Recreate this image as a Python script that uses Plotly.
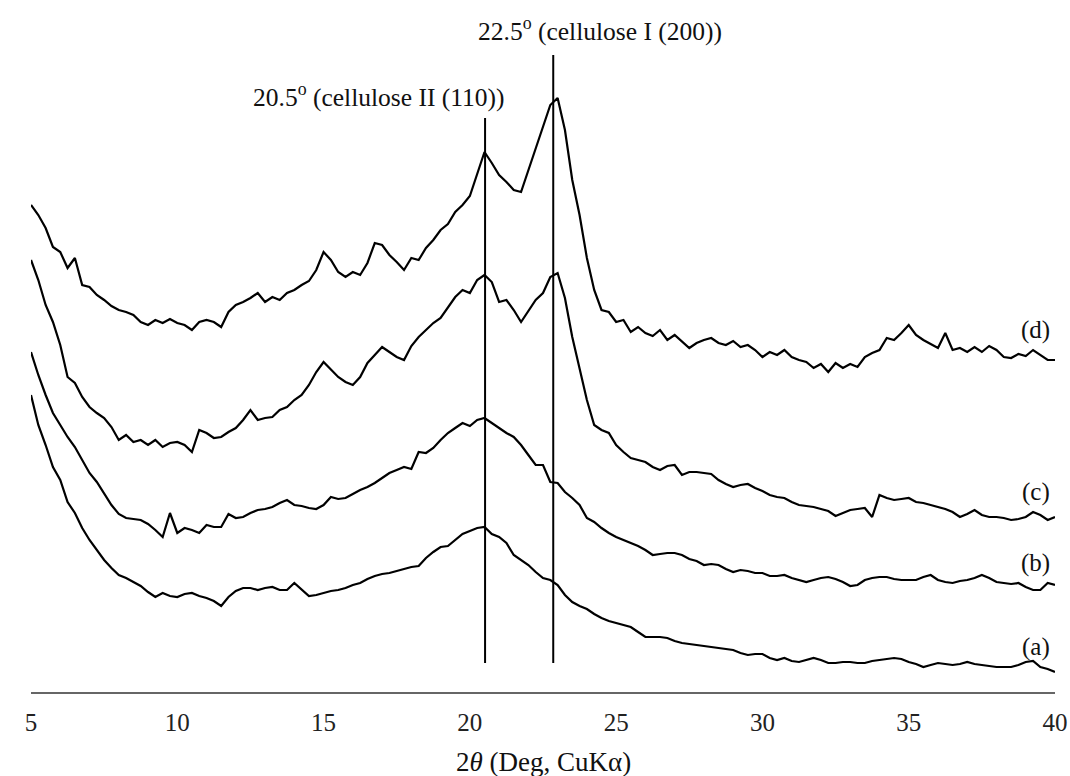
import numpy as np
import plotly.graph_objects as go

# 2-theta grid, 0.25 deg steps
two_theta = np.arange(5, 40.001, 0.25)

# intensities (a.u., offset stack)
xrd_a = [305, 275, 255, 233, 220, 198, 187, 172, 160, 150, 140, 132, 125, 122, 118, 114,
         108, 103, 107, 104, 103, 106, 107, 104, 102, 99, 94, 103, 109, 112, 112, 110,
         112, 113, 110, 110, 117, 110, 104, 105, 107, 109, 110, 112, 115, 117, 121, 124,
         126, 127, 129, 131, 133, 134, 142, 148, 153, 154, 160, 166, 169, 172, 173, 166,
         163, 157, 145, 140, 135, 128, 122, 120, 115, 105, 98, 94, 91, 86, 82, 79,
         77, 75, 73, 68, 63, 63, 63, 62, 59, 57, 56, 55, 54, 53, 52, 51,
         50, 47, 45, 46, 46, 42, 40, 42, 39, 38, 40, 42, 40, 37, 37, 38,
         38, 37, 37, 39, 40, 41, 42, 41, 38, 36, 33, 35, 37, 36, 35, 36,
         38, 36, 35, 34, 33, 33, 33, 35, 38, 39, 33, 31, 28]
xrd_b = [348, 325, 305, 287, 275, 263, 253, 240, 227, 218, 206, 195, 186, 182, 181, 180,
         176, 170, 163, 187, 167, 172, 170, 167, 175, 173, 173, 186, 182, 183, 187, 190,
         191, 193, 197, 200, 195, 194, 192, 191, 195, 203, 201, 202, 206, 210, 213, 217,
         222, 227, 230, 233, 231, 248, 247, 252, 260, 267, 272, 277, 274, 280, 282, 277,
         272, 267, 263, 255, 245, 235, 235, 218, 217, 208, 202, 195, 182, 178, 172, 167,
         163, 160, 157, 154, 150, 145, 146, 147, 147, 145, 141, 139, 135, 136, 135, 131,
         128, 130, 129, 127, 127, 124, 124, 125, 122, 120, 118, 120, 122, 123, 121, 118,
         114, 115, 120, 122, 123, 123, 121, 120, 120, 120, 123, 125, 120, 118, 117, 119,
         120, 122, 125, 122, 118, 117, 116, 117, 113, 110, 110, 117, 115]
xrd_c = [440, 420, 395, 378, 355, 323, 317, 303, 293, 287, 282, 273, 260, 265, 258, 260,
         255, 260, 253, 257, 258, 255, 248, 270, 267, 262, 263, 268, 272, 280, 290, 280,
         282, 283, 290, 293, 300, 305, 315, 328, 338, 330, 323, 318, 315, 323, 337, 345,
         353, 348, 343, 340, 354, 363, 370, 377, 382, 392, 403, 410, 407, 420, 425, 418,
         398, 400, 390, 378, 389, 400, 407, 423, 427, 402, 363, 330, 300, 275, 270, 267,
         255, 248, 242, 240, 238, 233, 230, 234, 235, 225, 228, 228, 227, 226, 220, 216,
         213, 215, 216, 212, 209, 205, 203, 202, 198, 195, 194, 193, 191, 189, 184, 187,
         190, 191, 192, 183, 205, 202, 200, 201, 202, 198, 197, 195, 193, 191, 188, 183,
         186, 190, 185, 183, 183, 182, 180, 181, 183, 188, 185, 180, 183]
xrd_d = [495, 485, 472, 453, 448, 432, 442, 415, 413, 405, 400, 394, 390, 388, 385, 378,
         375, 380, 377, 381, 377, 375, 370, 378, 380, 378, 373, 388, 395, 398, 402, 407,
         398, 403, 400, 407, 410, 415, 419, 430, 448, 440, 428, 423, 428, 425, 437, 457,
         455, 445, 438, 430, 442, 440, 452, 460, 470, 476, 488, 495, 504, 527, 548, 537,
         525, 518, 510, 508, 530, 550, 572, 595, 602, 570, 520, 485, 442, 410, 390, 388,
         378, 380, 368, 373, 367, 364, 370, 360, 365, 358, 352, 357, 360, 362, 357, 355,
         359, 353, 355, 350, 343, 348, 345, 350, 343, 340, 338, 332, 336, 328, 337, 332,
         336, 333, 343, 347, 350, 362, 360, 367, 375, 365, 360, 356, 352, 367, 350, 352,
         348, 353, 348, 354, 350, 343, 342, 346, 344, 350, 345, 340, 340]

series = [("(a)", xrd_a, 53), ("(b)", xrd_b, 137), ("(c)", xrd_c, 208), ("(d)", xrd_d, 370)]

# reference peak positions (as drawn) and line tops
peak_pos = [20.52, 22.85]
peak_top = [582, 645]
peak_text = ["20.5<sup>o</sup> (cellulose II (110))", "22.5<sup>o</sup> (cellulose I (200))"]

serif = "Liberation Serif, Times New Roman, serif"

fig = go.Figure()
for name, vals, lab_y in series:
    fig.add_trace(go.Scatter(x=two_theta, y=vals, mode="lines", name=name,
                             line=dict(color="black", width=2.2), showlegend=False))
    fig.add_annotation(x=39.35, y=lab_y, text=name, showarrow=False,
                       xanchor="center", yanchor="middle",
                       font=dict(family=serif, size=25, color="#111"))

for xp, top in zip(peak_pos, peak_top):
    fig.add_shape(type="line", x0=xp, x1=xp, y0=37, y1=top,
                  line=dict(color="black", width=2))

fig.add_annotation(x=21.27, y=605, xanchor="right", yanchor="middle",
                   text=peak_text[0], showarrow=False,
                   font=dict(family=serif, size=25.5, color="#111"))
fig.add_annotation(x=24.45, y=671, xanchor="center", yanchor="middle",
                   text=peak_text[1], showarrow=False,
                   font=dict(family=serif, size=25.5, color="#111"))

fig.add_annotation(xref="paper", yref="paper", x=0.5, y=-0.1012,
                   xanchor="center", yanchor="middle",
                   text="2<i>θ</i> (Deg, CuKα)", showarrow=False,
                   font=dict(family=serif, size=27, color="#111"))

fig.update_layout(
    width=1070, height=776,
    margin=dict(l=31, r=15, t=0, b=84),
    paper_bgcolor="white", plot_bgcolor="white",
    xaxis=dict(range=[5, 40], tickvals=list(range(5, 41, 5)), showgrid=False,
               zeroline=False, showline=True, linecolor="#666", linewidth=1.5,
               ticks="", ticklabelstandoff=7, ticklabeloverflow="allow",
               tickfont=dict(family=serif, size=25, color="#222")),
    yaxis=dict(range=[8, 700], visible=False),
)

# page body margin off so the 1070x776 figure fills the window
fig.write_html("out.html", config={"displayModeBar": False},
               post_script="document.body.style.margin='0';")
